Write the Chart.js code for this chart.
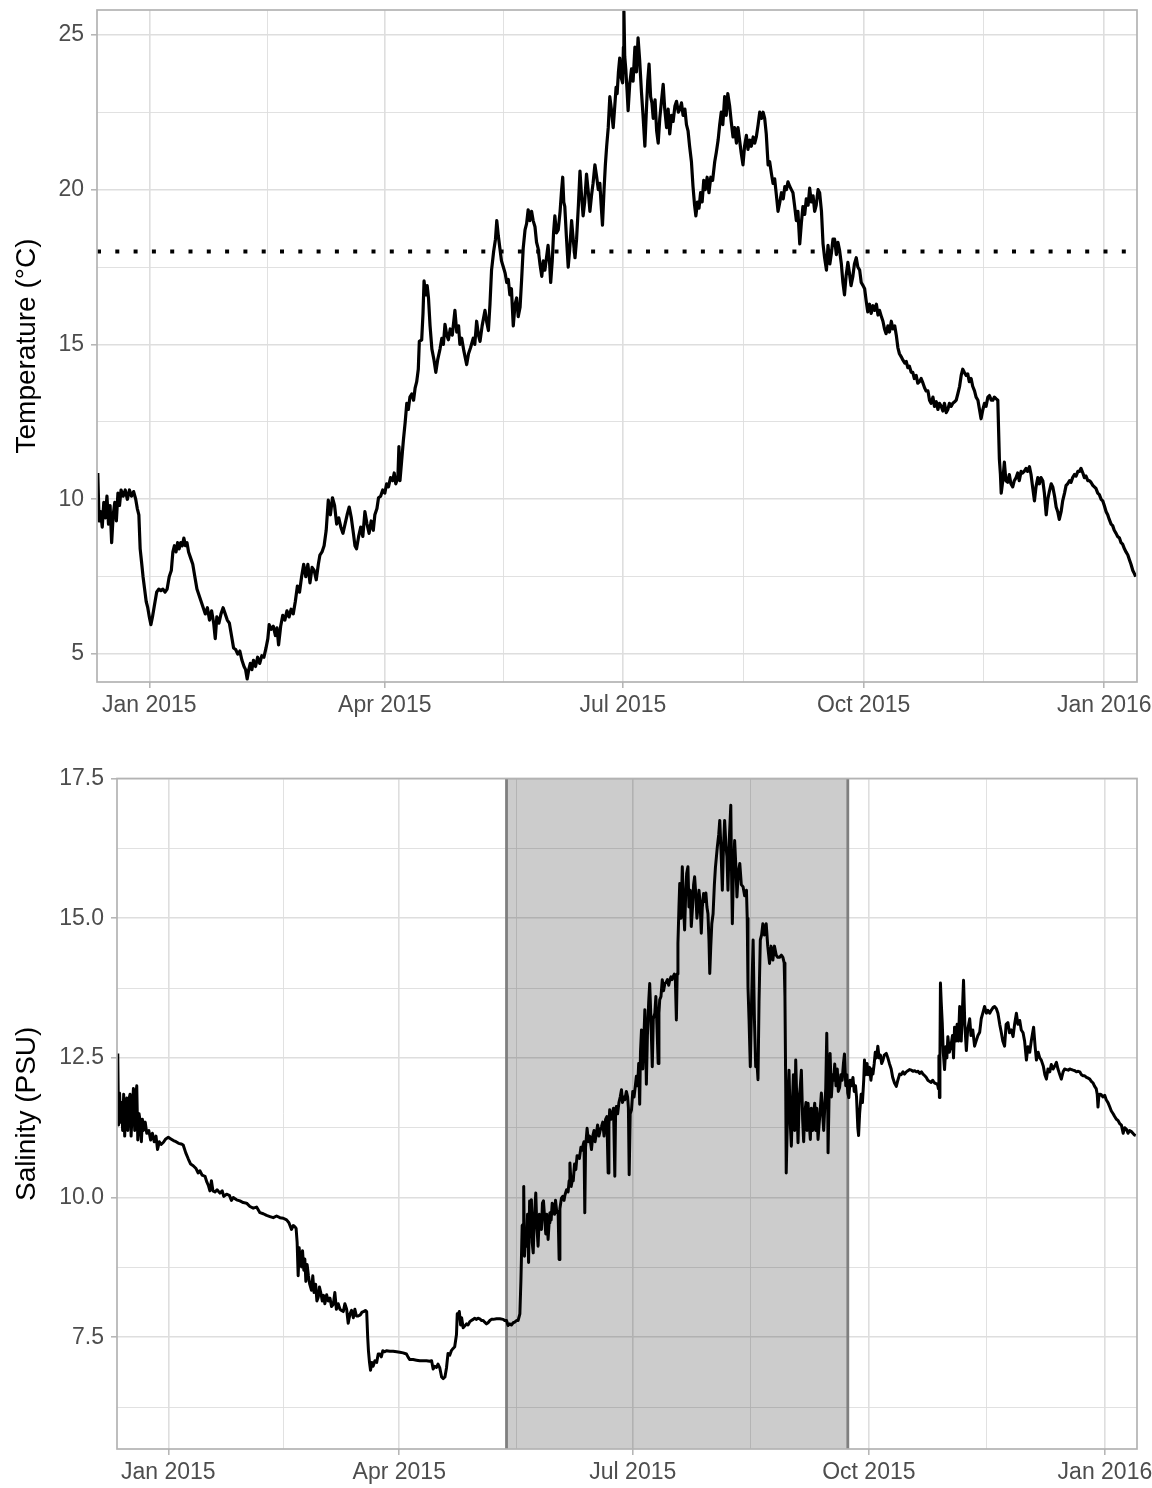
<!DOCTYPE html>
<html>
<head>
<meta charset="utf-8">
<title>Temperature and salinity 2015</title>
<script src="https://cdn.jsdelivr.net/npm/chart.js@4.4.1/dist/chart.umd.min.js"></script>
<style>
	html, body { margin: 0; padding: 0; background: #fff; }
	#wrap { position: relative; width: 1152px; height: 1488px; }
	canvas { position: absolute; left: 0; }
	#tempChart { top: 0; }
	#salChart { top: 745px; }
</style>
</head>
<body>
<div id="wrap">
	<canvas id="tempChart" width="1152" height="745"></canvas>
	<canvas id="salChart" width="1152" height="743"></canvas>
</div>
<script>
// x values are days counted from 1 Jan 2015
const xRange = [-20, 377.5];
const monthTicks = [0, 90, 181, 273, 365];
const monthLabels = ['Jan 2015', 'Apr 2015', 'Jul 2015', 'Oct 2015', 'Jan 2016'];
const monthMinor = [45, 135.5, 227, 319];

const tempTicks = [5, 10, 15, 20, 25];
const tempLabels = ['5', '10', '15', '20', '25'];
const tempMinor = [7.5, 12.5, 17.5, 22.5];
const tempRange = [4.1, 25.8];
const tempThreshold = 18;

const salTicks = [7.5, 10, 12.5, 15, 17.5];
const salLabels = ['7.5', '10.0', '12.5', '15.0', '17.5'];
const salMinor = [6.25, 8.75, 11.25, 13.75, 16.25];
const salRange = [5.5, 17.5];
const shadedPeriod = [131.8, 264.8];

// [day, °C]
const temperature = [
	[-19.7,10.85],[-19.2,9.3],[-18.6,9.6],[-18.0,9.1],[-17.4,9.9],[-16.8,9.4],[-16.2,10.1],[-15.6,9.2],[-15.0,9.8],[-14.4,8.6],
	[-13.8,9.5],[-13.2,9.9],[-12.6,9.3],[-12.0,10.2],[-11.4,9.8],[-10.8,10.3],[-10.0,10.1],[-9.2,10.3],[-8.4,10.0],[-7.6,10.3],
	[-6.8,10.1],[-6.0,10.25],[-5.2,10.0],[-4.6,9.7],[-4.0,9.5],[-3.5,8.4],[-3.0,8.0],[-2.4,7.5],[-1.8,7.1],[-1.2,6.7],
	[-0.6,6.5],[0.0,6.2],[0.6,5.95],[1.2,6.2],[2.0,6.6],[2.8,7.0],[3.6,7.1],[4.4,7.05],[5.2,7.1],[6.0,7.0],
	[6.8,7.1],[7.6,7.5],[8.4,7.7],[9.0,8.3],[9.6,8.5],[10.2,8.3],[10.8,8.6],[11.4,8.4],[12.0,8.6],[12.6,8.5],
	[13.2,8.75],[13.8,8.5],[14.4,8.6],[15.0,8.3],[15.8,8.1],[16.6,7.9],[17.4,7.5],[18.2,7.1],[19.0,6.9],[19.8,6.7],
	[20.6,6.5],[21.4,6.3],[22.2,6.5],[23.0,6.1],[23.8,6.4],[24.6,6.0],[25.2,5.5],[25.8,6.2],[26.6,6.0],[27.4,6.3],
	[28.2,6.5],[29.0,6.3],[29.8,6.1],[30.6,6.0],[31.4,5.6],[32.2,5.2],[33.0,5.15],[33.8,5.0],[34.6,5.1],[35.4,4.8],
	[36.2,4.6],[36.8,4.5],[37.4,4.2],[38.0,4.5],[38.6,4.7],[39.2,4.5],[39.8,4.8],[40.6,4.6],[41.4,4.9],[42.2,4.7],
	[43.0,4.95],[43.8,4.9],[44.6,5.2],[45.3,5.5],[45.8,5.95],[46.6,5.8],[47.4,5.9],[48.2,5.6],[48.8,5.85],[49.4,5.3],
	[50.2,5.9],[51.0,6.25],[51.8,6.1],[52.6,6.4],[53.4,6.2],[54.2,6.45],[55.0,6.3],[55.8,6.7],[56.6,7.2],[57.4,7.0],
	[58.2,7.5],[59.0,7.9],[59.8,7.5],[60.6,7.9],[61.4,7.3],[62.2,7.8],[63.0,7.7],[63.8,7.4],[64.6,7.9],[65.2,8.2],
	[66.0,8.3],[66.8,8.5],[67.6,9.0],[68.4,9.97],[69.2,9.5],[70.0,10.05],[70.8,9.8],[71.6,9.2],[72.4,9.4],[73.2,9.1],
	[74.0,8.9],[74.8,9.2],[75.6,9.5],[76.4,9.75],[77.2,9.4],[78.0,8.9],[78.6,8.5],[79.2,8.4],[80.0,8.8],[80.8,9.1],
	[81.6,8.8],[82.4,9.6],[83.2,9.2],[84.0,8.9],[84.8,9.3],[85.6,9.0],[86.2,9.5],[87.0,9.7],[87.6,10.05],[88.4,10.1],
	[89.2,10.3],[90.0,10.2],[90.7,10.5],[91.4,10.4],[92.2,10.7],[93.0,10.6],[93.6,10.85],[94.2,10.5],[95.0,10.7],[95.4,11.7],
	[95.8,10.6],[96.4,11.2],[97.1,11.9],[97.8,12.5],[98.4,13.1],[99.0,12.9],[99.6,13.3],[100.3,13.4],[101.0,13.2],[101.6,13.6],
	[102.2,13.8],[102.8,14.2],[103.2,15.1],[104.1,15.15],[104.6,16.0],[105.0,17.05],[105.6,16.6],[106.2,16.9],[106.7,16.5],[107.3,15.6],
	[108.0,14.85],[108.8,14.5],[109.5,14.1],[110.2,14.5],[111.1,14.85],[111.8,15.2],[112.4,15.0],[113.0,15.65],[113.7,15.3],[114.3,15.15],
	[115.0,15.5],[115.8,15.3],[116.8,16.1],[117.5,15.4],[118.2,15.6],[118.7,15.0],[119.4,15.2],[120.2,14.8],[121.3,14.35],[122.0,14.7],
	[122.8,14.9],[123.8,15.2],[124.4,15.0],[125.1,15.75],[125.8,15.3],[126.4,15.1],[127.2,15.6],[128.3,16.1],[129.0,15.7],[129.6,15.45],
	[130.2,16.3],[130.8,17.4],[131.6,18.0],[132.3,18.4],[132.8,19.0],[133.4,18.5],[134.0,18.1],[134.6,17.7],[135.3,17.5],[136.0,17.3],
	[136.6,17.0],[137.2,17.1],[137.8,16.6],[138.4,16.8],[139.1,15.6],[139.8,16.3],[140.4,16.5],[141.0,15.9],[141.7,16.2],[142.3,17.1],
	[142.9,18.1],[143.6,18.7],[144.2,18.9],[144.8,19.35],[145.4,19.0],[146.1,19.3],[146.7,19.0],[147.4,18.8],[148.0,18.3],[148.6,18.1],
	[149.3,17.6],[150.0,17.2],[150.6,17.7],[151.2,17.4],[151.8,17.8],[152.4,18.2],[153.0,17.6],[153.4,17.0],[154.0,17.7],[154.5,18.6],
	[155.0,19.15],[155.6,18.6],[156.3,18.7],[157.0,19.3],[157.5,19.9],[158.0,20.4],[158.4,19.6],[158.8,19.45],[159.4,18.5],[160.1,17.5],
	[160.7,18.1],[161.4,19.0],[162.0,18.4],[162.7,17.8],[163.3,18.4],[164.0,19.5],[164.6,20.6],[165.2,19.8],[165.8,19.15],[166.4,19.6],
	[167.1,20.5],[167.8,19.9],[168.4,19.3],[169.0,19.8],[169.6,20.2],[170.3,20.8],[171.0,20.4],[171.6,20.0],[172.2,20.2],[172.7,19.5],
	[173.2,18.85],[173.8,20.0],[174.3,20.8],[174.8,21.4],[175.4,22.0],[176.0,23.0],[176.6,22.6],[177.3,22.0],[177.9,22.7],[178.4,23.3],
	[178.8,23.1],[179.3,23.8],[179.8,24.25],[180.4,23.6],[180.9,23.45],[181.2,24.6],[181.4,25.75],[181.7,24.3],[182.1,23.9],[182.6,23.2],
	[183.0,22.55],[183.6,23.4],[184.3,23.9],[184.9,23.5],[185.6,24.6],[186.2,23.8],[186.8,24.9],[187.4,24.2],[188.1,23.15],[188.7,22.4],
	[189.4,21.4],[190.0,22.6],[190.5,23.5],[191.0,24.05],[191.6,23.0],[192.1,22.8],[192.6,22.3],[193.3,22.9],[193.9,21.9],[194.5,21.5],
	[195.1,22.3],[195.8,22.9],[196.4,23.4],[197.0,22.6],[197.7,22.0],[198.3,22.6],[198.9,21.8],[199.6,22.4],[200.2,22.2],[200.9,22.7],
	[201.5,22.85],[202.2,22.5],[202.8,22.6],[203.4,22.8],[204.0,22.4],[204.7,22.6],[205.3,22.1],[205.9,21.9],[206.5,21.4],[207.2,20.9],
	[207.8,20.1],[208.4,19.5],[208.9,19.15],[209.5,19.6],[210.1,19.4],[210.7,19.9],[211.3,19.6],[211.9,20.3],[212.5,20.0],[213.2,20.4],
	[213.9,19.9],[214.6,20.4],[215.3,20.3],[216.1,20.9],[216.7,21.2],[217.4,21.6],[218.0,22.1],[218.6,22.5],[219.2,22.1],[219.9,23.0],
	[220.5,22.4],[221.1,23.1],[221.8,22.7],[222.4,22.2],[223.1,21.7],[223.7,22.0],[224.4,21.5],[225.0,22.0],[225.6,21.6],[226.2,21.2],
	[226.9,20.8],[227.5,21.4],[228.2,21.75],[228.8,21.3],[229.5,21.6],[230.1,21.4],[230.8,21.7],[231.4,21.5],[232.0,21.7],[232.7,22.1],
	[233.3,22.5],[234.0,22.3],[234.6,22.5],[235.2,22.3],[235.8,21.8],[236.5,20.8],[237.1,20.9],[237.8,20.5],[238.4,20.2],[239.0,20.35],
	[239.7,19.8],[240.3,19.3],[241.0,19.6],[241.6,19.9],[242.3,19.7],[242.9,20.1],[243.5,20.0],[244.1,20.25],[244.8,20.1],[245.4,20.0],
	[246.0,19.9],[246.6,19.5],[247.3,19.0],[247.9,19.3],[248.6,18.25],[249.2,18.9],[249.8,19.45],[250.5,19.2],[251.1,19.7],[251.8,19.5],
	[252.4,20.05],[253.0,19.6],[253.7,19.8],[254.3,19.3],[254.9,19.5],[255.6,20.0],[256.2,19.9],[256.9,19.3],[257.5,18.25],[258.1,17.8],
	[258.8,17.4],[259.4,18.2],[260.1,17.6],[260.7,17.95],[261.3,18.4],[261.9,18.4],[262.6,17.9],[263.2,18.3],[263.8,18.05],[264.5,17.6],
	[265.1,17.0],[265.7,16.6],[266.3,17.2],[267.0,17.65],[267.6,17.3],[268.2,16.9],[268.9,17.2],[269.5,17.6],[270.2,17.8],[270.8,17.5],
	[271.5,17.4],[272.1,17.0],[272.8,16.9],[273.4,16.8],[274.0,16.4],[274.6,16.05],[275.3,16.3],[275.9,16.0],[276.6,16.25],[277.2,16.1],
	[277.9,16.3],[278.5,15.95],[279.1,16.1],[279.8,15.9],[280.4,15.75],[281.0,15.5],[281.6,15.35],[282.3,15.6],[282.9,15.4],[283.6,15.75],
	[284.2,15.5],[284.9,15.6],[285.5,15.3],[286.1,14.9],[286.7,14.7],[287.4,14.6],[288.0,14.5],[288.7,14.4],[289.3,14.45],[289.9,14.25],
	[290.5,14.3],[291.2,14.1],[291.8,14.1],[292.4,13.9],[293.1,14.0],[293.7,13.75],[294.4,13.8],[295.0,13.9],[295.7,13.75],[296.3,13.6],
	[296.9,13.5],[297.6,13.5],[298.2,13.2],[298.8,13.1],[299.5,13.3],[300.1,13.0],[300.8,13.15],[301.4,12.9],[302.0,13.1],[302.7,13.0],
	[303.3,12.85],[303.9,13.1],[304.6,12.8],[305.2,12.9],[305.8,13.1],[306.5,13.0],[307.1,13.1],[307.8,13.15],[308.4,13.2],[309.0,13.4],
	[309.7,13.65],[310.3,14.0],[310.9,14.2],[311.5,14.1],[312.2,14.0],[312.8,14.05],[313.4,13.8],[314.1,13.9],[314.7,13.65],[315.4,13.5],
	[316.0,13.3],[316.7,13.2],[317.3,12.9],[317.9,12.6],[318.6,12.9],[319.2,13.1],[319.8,13.0],[320.5,13.3],[321.1,13.35],[321.8,13.2],
	[322.4,13.2],[323.0,13.3],[323.6,13.25],[324.3,13.2],[324.9,11.3],[325.3,10.8],[325.6,10.2],[326.2,10.6],[326.8,11.2],[327.4,10.6],
	[328.1,10.55],[328.7,10.8],[329.3,10.5],[330.0,10.4],[330.6,10.6],[331.3,10.7],[331.9,10.85],[332.5,10.6],[333.2,10.9],[333.8,10.85],
	[334.4,10.9],[335.1,11.0],[335.7,10.9],[336.4,11.05],[337.0,10.8],[337.6,10.4],[338.3,9.95],[338.9,10.4],[339.6,10.7],[340.2,10.5],
	[340.8,10.7],[341.5,10.6],[342.1,10.2],[342.8,9.5],[343.4,10.0],[344.0,10.25],[344.7,10.5],[345.3,10.4],[346.0,10.1],[346.6,9.75],
	[347.2,9.6],[347.8,9.35],[348.5,9.6],[349.1,9.95],[349.8,10.2],[350.4,10.45],[351.0,10.5],[351.7,10.6],[352.3,10.55],[352.9,10.7],
	[353.6,10.8],[354.2,10.75],[354.9,10.9],[355.5,10.9],[356.1,11.0],[356.8,10.85],[357.4,10.7],[358.0,10.75],[358.7,10.6],[359.3,10.6],
	[359.9,10.55],[360.6,10.45],[361.2,10.4],[361.8,10.35],[362.5,10.2],[363.1,10.15],[363.8,10.0],[364.4,9.95],[365.0,9.8],[365.7,9.6],
	[366.3,9.5],[366.9,9.35],[367.6,9.2],[368.2,9.15],[368.8,9.0],[369.5,8.9],[370.1,8.8],[370.8,8.75],[371.4,8.6],[372.0,8.55],
	[372.7,8.4],[373.3,8.3],[374.0,8.2],[374.6,8.05],[375.2,7.9],[375.9,7.7],[376.5,7.6],[377.0,7.5]
];

// [day, PSU]
const salinity = [
	[-19.7,12.58],[-19.4,11.3],[-19.0,11.87],[-18.6,11.35],[-18.2,11.7],[-17.8,11.2],[-17.4,11.85],[-17.0,11.1],[-16.6,11.6],[-16.2,11.78],
	[-15.8,11.2],[-15.4,11.75],[-14.9,11.85],[-14.5,11.1],[-14.0,11.6],[-13.6,11.95],[-13.1,11.2],[-12.7,11.8],[-12.3,12.0],[-11.9,11.03],
	[-11.4,11.5],[-11.0,11.37],[-10.5,11.0],[-10.1,11.4],[-9.7,11.2],[-9.0,11.35],[-8.4,11.15],[-7.6,11.2],[-6.9,11.03],[-6.2,11.15],
	[-5.5,11.0],[-4.8,11.1],[-4.2,10.86],[-3.5,11.0],[-2.8,10.95],[-1.9,10.99],[-1.0,11.05],[0.0,11.08],[1.0,11.05],[2.0,11.02],
	[3.0,11.0],[4.0,10.97],[5.0,10.96],[5.8,10.94],[6.8,10.8],[7.8,10.69],[8.7,10.6],[9.7,10.57],[10.8,10.52],[11.6,10.44],
	[12.3,10.48],[13.2,10.4],[14.3,10.38],[15.0,10.28],[15.6,10.22],[16.2,10.12],[16.8,10.3],[17.4,10.12],[18.2,10.1],[19.0,10.14],
	[20.1,10.08],[21.0,10.12],[21.6,10.02],[22.7,10.06],[23.8,10.04],[24.6,9.95],[25.3,10.0],[26.6,9.96],[27.9,9.94],[29.2,9.91],
	[30.5,9.9],[31.8,9.84],[33.1,9.81],[34.4,9.83],[35.7,9.73],[37.0,9.71],[38.3,9.68],[39.6,9.66],[40.9,9.64],[42.2,9.67],
	[43.5,9.64],[44.8,9.63],[46.1,9.6],[47.0,9.55],[48.0,9.43],[48.7,9.5],[49.3,9.48],[49.8,9.45],[50.2,9.2],[50.6,8.6],
	[51.0,9.1],[51.4,8.85],[51.9,8.76],[52.3,9.05],[52.8,8.7],[53.2,8.9],[53.6,8.5],[54.1,8.8],[54.6,8.6],[55.1,8.45],
	[55.8,8.34],[56.3,8.6],[56.8,8.3],[57.4,8.45],[57.9,8.15],[58.4,8.21],[58.9,8.4],[59.4,8.3],[60.0,8.15],[60.5,8.25],
	[61.0,8.1],[61.7,8.26],[62.3,8.15],[63.0,8.2],[63.6,8.05],[64.3,8.09],[64.9,8.3],[65.5,8.0],[66.2,8.1],[66.9,8.0],
	[67.5,7.98],[68.2,7.96],[68.8,8.1],[69.5,8.0],[70.1,7.75],[70.8,7.92],[71.4,7.98],[72.1,7.85],[72.7,8.0],[73.3,7.88],
	[74.0,7.88],[74.8,7.9],[75.5,7.95],[76.2,7.96],[76.8,7.98],[77.3,7.96],[77.7,7.5],[78.0,7.25],[78.4,7.05],[78.8,6.91],
	[79.3,7.05],[79.8,6.98],[80.5,7.08],[81.2,7.05],[81.8,7.2],[82.4,7.2],[83.0,7.15],[83.6,7.26],[84.3,7.24],[85.0,7.26],
	[86.3,7.25],[87.6,7.25],[89.0,7.24],[90.2,7.23],[91.5,7.22],[92.8,7.2],[93.5,7.14],[94.1,7.1],[95.4,7.1],[96.7,7.09],
	[98.0,7.08],[99.3,7.08],[100.6,7.08],[101.9,7.07],[102.6,7.08],[103.2,6.93],[103.8,6.98],[104.5,6.96],[105.1,7.02],[105.8,6.95],
	[106.5,6.79],[107.1,6.76],[107.8,6.79],[108.4,6.95],[109.0,7.21],[109.7,7.18],[110.3,7.26],[111.0,7.3],[111.6,7.33],[112.3,7.55],
	[112.6,7.92],[113.0,7.9],[113.4,7.96],[113.9,7.72],[114.3,7.85],[114.9,7.67],[115.5,7.7],[116.2,7.74],[116.8,7.72],[117.5,7.78],
	[118.1,7.8],[118.8,7.82],[119.4,7.84],[120.1,7.82],[120.7,7.84],[121.4,7.83],[122.0,7.8],[122.7,7.8],[123.3,7.77],[124.0,7.74],
	[124.6,7.76],[125.3,7.8],[125.9,7.82],[126.6,7.82],[127.9,7.83],[129.2,7.83],[130.5,7.82],[131.1,7.8],[131.8,7.8],[132.4,7.71],
	[133.1,7.74],[133.7,7.72],[134.4,7.76],[135.0,7.77],[135.7,7.8],[136.3,7.8],[137.0,7.92],[137.4,8.5],[137.6,8.89],[137.9,9.5],
	[138.3,9.52],[138.5,10.2],[138.8,8.95],[139.1,9.3],[139.6,9.13],[140.0,9.7],[140.4,8.84],[140.8,9.94],[141.1,9.3],[141.5,9.96],
	[141.8,9.2],[142.2,9.01],[142.6,9.6],[143.2,10.08],[143.6,9.5],[144.1,9.13],[144.6,9.7],[145.0,9.45],[145.4,9.43],[145.8,9.9],
	[146.2,9.94],[146.7,9.6],[147.1,9.35],[147.5,9.7],[148.0,9.25],[148.4,9.55],[148.7,9.73],[149.2,9.6],[149.6,9.9],[150.0,9.85],
	[150.5,9.7],[150.9,9.95],[151.4,9.73],[151.9,9.75],[152.3,8.89],[152.6,9.8],[153.2,9.99],[153.7,10.02],[154.2,9.95],[154.6,10.05],
	[155.2,10.14],[155.8,10.1],[156.2,10.3],[156.5,10.62],[157.0,10.2],[157.4,10.3],[157.8,10.3],[158.3,10.6],[158.8,10.5],[159.3,10.75],
	[159.7,10.74],[160.2,10.7],[160.8,10.9],[161.3,10.85],[161.7,10.95],[162.0,11.0],[162.3,9.73],[162.6,10.9],[163.2,11.24],[163.7,11.0],
	[164.2,11.1],[164.9,10.86],[165.4,11.1],[165.9,11.2],[166.3,11.0],[166.8,11.15],[167.3,11.3],[167.8,11.1],[168.3,11.2],[168.8,11.27],
	[169.3,11.35],[169.8,11.1],[170.4,11.4],[170.9,11.45],[171.4,10.44],[171.7,11.3],[172.0,11.57],[172.5,11.4],[173.0,11.5],[173.5,11.6],
	[174.0,10.38],[174.3,11.5],[174.6,11.63],[175.1,11.5],[175.6,11.7],[176.1,11.8],[176.6,11.93],[177.0,11.7],[177.4,11.8],[177.9,11.75],
	[178.5,11.9],[179.0,11.8],[179.3,11.6],[179.6,10.41],[180.0,11.5],[180.5,11.57],[181.0,11.9],[181.5,11.8],[182.0,12.0],[182.4,12.17],
	[182.9,12.0],[183.3,12.4],[183.7,11.67],[184.0,12.6],[184.4,13.0],[184.9,12.3],[185.3,12.8],[185.7,13.36],[186.0,12.9],[186.3,12.03],
	[186.7,12.9],[187.2,13.5],[187.6,13.83],[188.0,13.3],[188.6,12.34],[189.0,13.2],[189.6,13.3],[190.0,13.6],[190.4,13.1],[190.9,12.4],
	[191.2,13.3],[191.5,13.54],[192.0,13.6],[192.5,13.9],[193.0,13.7],[193.5,13.83],[194.0,13.85],[194.5,13.9],[195.0,13.8],[195.4,13.89],
	[195.9,13.95],[196.3,13.9],[196.7,13.95],[197.2,14.0],[197.6,13.9],[198.0,13.18],[198.3,14.0],[198.6,14.55],[199.0,15.2],[199.3,15.62],
	[199.8,15.0],[200.3,15.92],[200.7,15.3],[201.2,14.79],[201.6,15.4],[202.0,15.8],[202.5,15.92],[202.9,15.2],[203.4,15.5],[203.8,14.85],
	[204.3,15.2],[204.7,15.6],[205.1,15.74],[205.6,15.4],[206.0,15.0],[206.4,15.2],[206.8,15.5],[207.2,15.3],[207.7,14.73],[208.1,15.2],
	[208.6,15.44],[209.0,15.3],[209.5,15.45],[209.9,15.2],[210.3,15.08],[210.7,14.6],[211.0,14.01],[211.4,14.5],[211.8,14.9],[212.3,15.08],
	[212.8,15.6],[213.2,15.9],[213.6,16.1],[214.0,16.3],[214.5,16.5],[214.9,16.75],[215.4,16.2],[215.9,15.5],[216.3,16.2],[216.8,16.75],
	[217.3,16.3],[217.7,16.1],[218.1,15.5],[218.6,16.4],[219.2,17.02],[219.5,15.8],[219.8,14.9],[220.2,15.8],[220.7,16.39],[221.2,15.9],
	[221.6,15.38],[222.1,15.8],[222.7,15.98],[223.3,15.6],[224.0,15.56],[224.6,15.4],[225.3,15.5],[225.6,15.0],[225.9,13.77],[226.3,13.2],
	[226.8,12.34],[227.3,13.5],[227.9,14.61],[228.4,13.2],[228.9,12.34],[229.3,12.5],[229.8,12.11],[230.2,13.5],[230.7,14.61],[231.2,14.7],
	[231.7,14.9],[232.3,14.7],[233.0,14.9],[233.6,14.5],[234.3,14.19],[234.9,14.5],[235.6,14.25],[236.2,14.5],[236.9,14.34],[237.5,14.3],
	[238.2,14.3],[238.9,14.34],[239.5,14.3],[240.0,14.2],[240.3,13.6],[240.6,12.0],[240.8,10.44],[241.3,11.5],[241.9,12.28],[242.4,11.3],
	[242.8,10.92],[243.3,11.8],[243.6,12.2],[244.1,11.2],[244.5,12.46],[245.0,11.6],[245.4,10.98],[245.9,11.8],[246.3,12.0],[246.7,12.28],
	[247.2,11.4],[247.6,11.0],[248.0,11.5],[248.5,11.7],[248.9,11.2],[249.3,11.69],[249.8,11.3],[250.2,11.04],[250.6,11.6],[251.1,11.2],
	[251.5,11.5],[251.9,11.69],[252.3,11.2],[252.7,11.6],[253.2,11.04],[253.6,11.3],[254.1,11.6],[254.5,11.87],[255.0,11.5],[255.4,11.2],
	[255.8,11.6],[256.2,11.95],[256.6,12.94],[257.0,11.5],[257.1,10.8],[257.5,11.8],[257.9,12.58],[258.4,11.8],[258.9,12.2],[259.3,12.1],
	[259.7,12.39],[260.2,12.0],[260.7,12.3],[261.1,11.9],[261.6,11.97],[262.1,12.2],[262.6,12.1],[263.1,12.4],[263.5,12.57],[264.0,12.0],
	[264.4,12.2],[264.8,11.87],[265.2,11.79],[265.7,12.1],[266.2,12.0],[266.8,12.15],[267.3,11.9],[267.8,12.0],[268.2,11.8],[268.7,11.25],
	[269.0,11.11],[269.4,11.5],[270.0,11.85],[270.5,11.7],[271.0,12.1],[271.3,12.46],[271.8,12.2],[272.3,12.4],[272.7,12.2],[273.3,12.33],
	[273.8,12.1],[274.3,12.3],[274.6,12.21],[275.1,12.4],[275.5,12.6],[276.0,12.5],[276.5,12.71],[277.0,12.5],[277.5,12.55],[278.0,12.4],
	[278.5,12.46],[279.0,12.55],[279.8,12.58],[280.4,12.5],[281.0,12.4],[281.7,12.3],[282.3,12.15],[283.0,12.05],[283.7,11.99],[284.3,12.1],
	[285.0,12.21],[285.6,12.2],[286.3,12.25],[286.9,12.21],[287.6,12.25],[288.2,12.27],[288.9,12.29],[289.6,12.28],[290.2,12.26],[290.9,12.27],
	[291.5,12.25],[292.2,12.26],[292.8,12.22],[293.5,12.25],[294.1,12.21],[294.8,12.18],[295.4,12.15],[296.0,12.1],[296.6,12.08],[297.3,12.06],
	[297.9,12.1],[298.6,12.05],[299.2,12.04],[299.8,12.02],[300.1,11.95],[300.3,12.54],[300.5,11.79],[300.7,12.5],[300.9,13.84],[301.2,13.5],
	[301.6,13.13],[302.0,12.6],[302.5,12.29],[303.0,12.7],[303.4,12.5],[303.8,12.88],[304.4,12.6],[305.1,12.75],[305.6,12.9],[306.0,12.5],
	[306.4,13.05],[306.9,12.8],[307.4,13.1],[307.9,12.8],[308.4,13.42],[308.7,13.0],[309.0,12.8],[309.5,13.4],[309.9,13.89],[310.4,13.1],
	[311.0,12.63],[311.5,13.0],[312.3,13.2],[312.8,12.9],[313.5,13.0],[314.2,12.71],[314.8,12.8],[315.5,12.9],[316.2,12.96],[316.8,13.2],
	[317.4,13.3],[318.1,13.42],[318.8,13.3],[319.4,13.35],[320.1,13.3],[320.7,13.35],[321.4,13.4],[322.0,13.42],[322.7,13.38],[323.3,13.3],
	[324.0,13.1],[324.6,12.96],[325.2,12.8],[325.9,12.71],[326.5,13.1],[327.2,13.13],[327.8,12.95],[328.5,13.0],[329.2,12.88],[329.8,13.1],
	[330.5,13.3],[331.1,13.1],[331.8,13.17],[332.4,13.0],[333.1,12.95],[333.7,12.8],[334.4,12.46],[335.0,12.7],[335.7,12.6],[336.3,12.8],
	[337.2,13.05],[337.8,12.7],[338.3,12.46],[339.0,12.6],[339.6,12.5],[340.2,12.46],[341.0,12.35],[341.6,12.2],[342.2,12.12],[342.8,12.3],
	[343.5,12.25],[344.1,12.38],[344.8,12.3],[345.4,12.35],[346.1,12.42],[346.7,12.3],[347.4,12.2],[348.0,12.12],[348.7,12.25],[349.3,12.3],
	[350.0,12.29],[350.7,12.28],[351.3,12.3],[352.0,12.29],[352.6,12.28],[353.3,12.27],[353.9,12.25],[354.6,12.26],[355.2,12.25],[355.8,12.2],
	[356.5,12.18],[357.1,12.18],[357.8,12.15],[358.4,12.14],[359.1,12.12],[359.7,12.08],[360.4,12.05],[361.0,11.99],[361.6,11.95],[362.0,11.85],
	[362.3,11.62],[362.6,11.8],[363.0,11.85],[363.6,11.84],[364.2,11.8],[364.9,11.83],[365.5,11.75],[366.2,11.7],[366.9,11.62],[367.5,11.55],
	[368.2,11.5],[368.8,11.45],[369.5,11.4],[370.1,11.38],[370.8,11.32],[371.4,11.3],[372.1,11.15],[372.7,11.25],[373.4,11.22],[374.0,11.15],
	[374.6,11.2],[375.3,11.18],[375.9,11.15],[376.5,11.12],[377.0,11.11]
];

Chart.defaults.font.family = "'Liberation Sans', Arial, Helvetica, sans-serif";

// ggplot-like panel border, drawn on top of the data
const panelBorder = {
	id: 'panelBorder',
	afterDraw(chart) {
		const { ctx, chartArea: a } = chart;
		ctx.save();
		ctx.strokeStyle = '#b3b3b3';
		ctx.lineWidth = 1.7;
		ctx.strokeRect(a.left, a.top, a.right - a.left, a.bottom - a.top);
		ctx.restore();
	}
};

function toPoints(pairs) {
	return pairs.map(p => ({ x: p[0], y: p[1] }));
}

function tickList(major, minor) {
	return major.concat(minor).sort((a, b) => a - b).map(v => ({ value: v }));
}

function gridOptions(major) {
	const isMajor = ctx => ctx.tick && major.includes(ctx.tick.value);
	return {
		color: '#dedede',
		lineWidth: ctx => isMajor(ctx) ? 1.6 : 0.9,
		drawTicks: true,
		tickLength: 6,
		tickWidth: 1.5,
		tickColor: ctx => isMajor(ctx) ? '#b3b3b3' : 'rgba(0,0,0,0)'
	};
}

function xScale(axisHeight) {
	return {
		type: 'linear',
		min: xRange[0],
		max: xRange[1],
		afterBuildTicks: scale => { scale.ticks = tickList(monthTicks, monthMinor); },
		afterFit: scale => {
			scale.height = axisHeight;
			scale.paddingLeft = 0;
			scale.paddingRight = 0;
		},
		grid: gridOptions(monthTicks),
		border: { display: false },
		ticks: {
			autoSkip: false,
			maxRotation: 0,
			minRotation: 0,
			padding: 4,
			color: '#4d4d4d',
			font: { size: 23 },
			callback: value => {
				const i = monthTicks.indexOf(value);
				return i < 0 ? '' : monthLabels[i];
			}
		}
	};
}

function yScale(range, major, minor, labels, axisWidth, title) {
	return {
		type: 'linear',
		min: range[0],
		max: range[1],
		afterBuildTicks: scale => { scale.ticks = tickList(major, minor); },
		afterFit: scale => {
			scale.width = axisWidth;
			scale.paddingTop = 0;
			scale.paddingBottom = 0;
		},
		grid: gridOptions(major),
		border: { display: false },
		ticks: {
			autoSkip: false,
			padding: 7,
			color: '#4d4d4d',
			font: { size: 23 },
			callback: value => {
				const i = major.indexOf(value);
				return i < 0 ? '' : labels[i];
			}
		},
		title: {
			display: true,
			text: title,
			color: '#000',
			font: { size: 28 },
			padding: { top: 10, bottom: 0 }
		}
	};
}

function baseOptions(padding, xs, ys) {
	return {
		responsive: false,
		animation: false,
		devicePixelRatio: 1,
		layout: { padding: padding },
		plugins: {
			legend: { display: false },
			tooltip: { enabled: false }
		},
		scales: { x: xs, y: ys }
	};
}

function createTemperatureChart() {
	const ctx = document.getElementById('tempChart').getContext('2d');
	new Chart(ctx, {
		type: 'line',
		data: {
			datasets: [
				{
					label: '18 °C',
					data: xRange.map(x => ({ x: x, y: tempThreshold })),
					borderColor: '#000',
					borderWidth: 4,
					borderDash: [4, 14.3],
					borderCapStyle: 'butt',
					pointRadius: 0
				},
				{
					label: 'Temperature',
					data: toPoints(temperature),
					borderColor: '#000',
					borderWidth: 3.2,
					borderJoinStyle: 'round',
					pointRadius: 0,
					tension: 0
				}
			]
		},
		options: baseOptions({ left: 0, right: 15, top: 10, bottom: 0 },
			xScale(63),
			yScale(tempRange, tempTicks, tempMinor, tempLabels, 97, 'Temperature (°C)')),
		plugins: [panelBorder]
	});
}

function createSalinityChart() {
	const ctx = document.getElementById('salChart').getContext('2d');
	new Chart(ctx, {
		type: 'line',
		data: {
			datasets: [
				{
					label: 'Salinity',
					data: toPoints(salinity),
					borderColor: '#000',
					borderWidth: 3.0,
					borderJoinStyle: 'round',
					pointRadius: 0,
					tension: 0
				},
				{
					label: 'period start',
					data: salRange.map(y => ({ x: shadedPeriod[0], y: y })),
					borderColor: '#7f7f7f',
					borderWidth: 2.8,
					pointRadius: 0
				},
				{
					label: 'period end',
					data: salRange.map(y => ({ x: shadedPeriod[1], y: y })),
					borderColor: '#7f7f7f',
					borderWidth: 2.8,
					pointRadius: 0
				},
				{
					label: 'period',
					data: shadedPeriod.map(x => ({ x: x, y: salRange[1] })),
					borderColor: 'rgba(0,0,0,0)',
					backgroundColor: 'rgba(0,0,0,0.2)',
					fill: 'start',
					pointRadius: 0
				}
			]
		},
		options: baseOptions({ left: 0, right: 15, top: 33.5, bottom: 0 },
			xScale(39),
			yScale(salRange, salTicks, salMinor, salLabels, 117, 'Salinity (PSU)')),
		plugins: [panelBorder]
	});
}

document.addEventListener('DOMContentLoaded', function() {
	createTemperatureChart();
	createSalinityChart();
});
</script>
</body>
</html>
